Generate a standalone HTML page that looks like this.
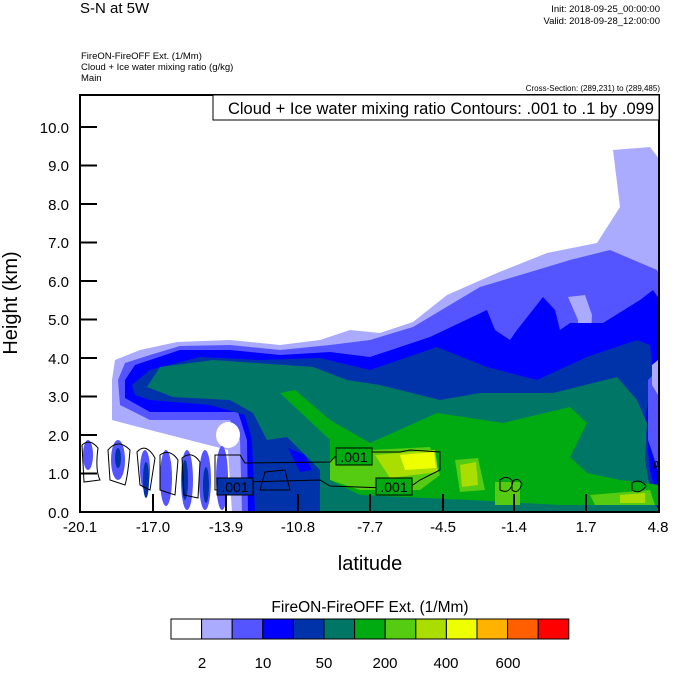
<!DOCTYPE html>
<html><head><meta charset="utf-8"><style>
body{margin:0;background:#fff;width:674px;height:668px;overflow:hidden;font-family:"Liberation Sans",sans-serif}
</style></head><body>
<svg width="674" height="668" viewBox="0 0 674 668" xmlns="http://www.w3.org/2000/svg" font-family="Liberation Sans, sans-serif">
<text x="80" y="13" font-size="15">S-N at 5W</text>
<text x="660" y="12" font-size="9.5" text-anchor="end">Init: 2018-09-25_00:00:00</text>
<text x="660" y="24" font-size="9.5" text-anchor="end">Valid: 2018-09-28_12:00:00</text>
<text x="81" y="59" font-size="9.5">FireON-FireOFF Ext.   (1/Mm)</text>
<text x="81" y="70" font-size="9.5">Cloud + Ice water mixing ratio   (g/kg)</text>
<text x="81" y="81" font-size="9.5">Main</text>
<text x="660" y="91" font-size="8" text-anchor="end">Cross-Section: (289,231) to (289,485)</text>
<defs><clipPath id="c"><rect x="80" y="95" width="579" height="417"/></clipPath></defs>
<g clip-path="url(#c)">
<path fill="#aaaaff" d="M112,380 L115,360 L140,350 L177,342 L230,340 L280,345 L320,340 L350,330 L380,333 L413,322 L447,295 L497,273 L547,253 L597,243 L620,207 L613,150 L650,147 L660,160 L660,512 L232,512 L228,450 L150,430 L112,420 Z"/>
<path fill="#5555ff" d="M118,380 L125,363 L150,355 L180,346 L230,345 L280,350 L330,345 L370,340 L413,327 L480,287 L537,270 L570,260 L610,250 L657,270 L660,275 L660,512 L242,512 L240,440 L230,420 L150,420 L120,405 Z"/>
<path fill="#aaaaff" d="M568,297 L585,295 L592,315 L590,350 L580,353 L578,320 Z"/>
<path fill="#0000ff" d="M125,380 L135,365 L180,350 L230,350 L280,355 L330,352 L370,357 L430,337 L487,310 L495,330 L510,340 L517,330 L543,297 L555,310 L560,330 L570,323 L603,323 L640,300 L653,290 L660,300 L660,512 L248,512 L247,440 L238,412 L150,412 L125,398 Z"/>
<path fill="#0033aa" d="M132,385 L150,370 L200,357 L260,360 L320,358 L370,370 L437,347 L487,367 L537,380 L587,357 L637,340 L650,345 L653,373 L645,420 L650,470 L660,512 L255,512 L252,440 L245,415 L210,405 L150,400 L135,395 Z"/>
<path fill="#5555ff" d="M648,380 L658,370 L658,470 L648,440 Z"/>
<path fill="#aaaaff" d="M652,365 L658,360 L658,395 L652,385 Z"/>
<ellipse cx="228" cy="435" rx="12" ry="13" fill="#fff"/>
<path fill="#007766" d="M147,387 L160,367 L213,360 L313,367 L347,380 L380,385 L440,400 L480,393 L553,393 L617,377 L637,400 L647,423 L645,460 L652,500 L660,512 L320,512 L320,470 L287,437 L267,440 L253,413 L230,400 L173,397 Z"/>
<path fill="#0000ff" d="M288,448 L305,455 L312,470 L300,472 Z"/>
<path fill="#00aa11" d="M280,393 L295,390 L330,420 L370,443 L437,413 L503,423 L570,407 L587,423 L570,457 L587,473 L620,480 L660,485 L660,505 L560,505 L470,500 L360,495 L330,480 L330,440 Z"/>
<path fill="#55cc11" d="M330,460 L370,450 L430,447 L440,475 L420,490 L360,490 L330,480 Z M455,460 L478,458 L485,490 L460,492 Z M590,495 L650,490 L655,505 L595,505 Z M495,482 L520,482 L520,505 L495,505 Z"/>
<path fill="#aadd00" d="M375,455 L435,450 L438,472 L390,478 Z M460,465 L476,462 L478,485 L462,487 Z M620,495 L645,493 L645,503 L620,503 Z"/>
<path fill="#eeff00" d="M400,455 L434,452 L436,468 L405,470 Z"/>
<g fill="#5555ff">
<ellipse cx="88" cy="455" rx="5" ry="15"/><ellipse cx="118" cy="460" rx="7" ry="20"/>
<ellipse cx="145" cy="470" rx="5" ry="20"/><ellipse cx="166" cy="478" rx="6" ry="28"/>
<ellipse cx="187" cy="480" rx="6" ry="30"/><ellipse cx="205" cy="480" rx="6" ry="30"/>
<ellipse cx="222" cy="478" rx="6" ry="32"/>
</g>
<g fill="#0033aa">
<ellipse cx="118" cy="458" rx="3" ry="10"/><ellipse cx="146" cy="480" rx="3" ry="18"/>
<ellipse cx="185" cy="480" rx="3" ry="20"/><ellipse cx="206" cy="485" rx="3" ry="18"/>
</g>
<g fill="none" stroke="#000" stroke-width="1">
<path d="M215,455 L240,455 L245,463 L330,462 L340,452 L400,452 L410,450 L440,452 L440,470 L420,480 L410,487 L385,488 L330,486 L320,480 L245,482 L235,488 L215,490 Z"/>
<path d="M82,445 Q90,438 98,448 Q95,470 100,480 L84,482 Z"/>
<path d="M108,450 Q118,438 130,450 Q128,475 125,485 L110,480 Z"/>
<path d="M137,452 Q146,442 155,458 L150,490 L140,485 Z"/>
<path d="M160,455 Q170,448 178,460 L175,495 L160,490 Z"/>
<path d="M182,458 Q192,450 200,462 L198,498 L184,495 Z"/>
<path d="M260,490 L265,472 L285,470 L290,490 Z"/>
<path d="M500,480 Q508,474 513,482 Q510,495 500,490 Z"/>
<path d="M512,482 Q518,476 522,484 Q518,495 512,490 Z"/>
<path d="M632,483 Q640,478 646,486 Q640,495 632,490 Z"/>
<path d="M655,462 Q658,460 658,466 L654,468 Z"/>
</g>
<rect x="336" y="448" width="36" height="17" fill="#00aa11" stroke="#000"/>
<text x="354" y="462" font-size="14" text-anchor="middle">.001</text>
<rect x="217" y="478" width="36" height="17" fill="#0033aa" stroke="#000"/>
<text x="235" y="492" font-size="14" text-anchor="middle">.001</text>
<rect x="376" y="478" width="36" height="17" fill="#00aa11" stroke="#000"/>
<text x="394" y="492" font-size="14" text-anchor="middle">.001</text>
</g>
<rect x="80" y="95" width="579" height="417" fill="none" stroke="#000" stroke-width="2"/>
<rect x="213" y="95" width="446" height="25" fill="#fff" stroke="#000" stroke-width="1"/>
<text x="654" y="114" font-size="16.5" text-anchor="end">Cloud + Ice water mixing ratio Contours: .001 to .1 by .099</text>
<g stroke="#000" stroke-width="2">
<line x1="153" y1="512" x2="153" y2="494"/><line x1="226" y1="512" x2="226" y2="494"/>
<line x1="298" y1="512" x2="298" y2="494"/><line x1="370" y1="512" x2="370" y2="494"/>
<line x1="443" y1="512" x2="443" y2="494"/><line x1="514" y1="512" x2="514" y2="494"/>
<line x1="586" y1="512" x2="586" y2="494"/>
<line x1="80" y1="473.5" x2="97" y2="473.5"/><line x1="80" y1="435" x2="97" y2="435"/>
<line x1="80" y1="396.5" x2="97" y2="396.5"/><line x1="80" y1="358" x2="97" y2="358"/>
<line x1="80" y1="319.5" x2="97" y2="319.5"/><line x1="80" y1="281" x2="97" y2="281"/>
<line x1="80" y1="242.5" x2="97" y2="242.5"/><line x1="80" y1="204" x2="97" y2="204"/>
<line x1="80" y1="165.5" x2="97" y2="165.5"/><line x1="80" y1="127" x2="97" y2="127"/>
</g>
<g font-size="15" text-anchor="end">
<text x="69" y="518">0.0</text><text x="69" y="479">1.0</text><text x="69" y="441">2.0</text>
<text x="69" y="402">3.0</text><text x="69" y="364">4.0</text><text x="69" y="325">5.0</text>
<text x="69" y="287">6.0</text><text x="69" y="248">7.0</text><text x="69" y="210">8.0</text>
<text x="69" y="171">9.0</text><text x="69" y="133">10.0</text>
</g>
<g font-size="15" text-anchor="middle">
<text x="80" y="532">-20.1</text><text x="153" y="532">-17.0</text><text x="226" y="532">-13.9</text>
<text x="298" y="532">-10.8</text><text x="370" y="532">-7.7</text><text x="443" y="532">-4.5</text>
<text x="514" y="532">-1.4</text><text x="586" y="532">1.7</text><text x="658" y="532">4.8</text>
</g>
<text x="370" y="570" font-size="20" text-anchor="middle">latitude</text>
<text transform="translate(17,303) rotate(-90)" font-size="20" text-anchor="middle">Height (km)</text>
<text x="370" y="612" font-size="15.5" text-anchor="middle">FireON-FireOFF Ext.  (1/Mm)</text>
<g stroke="#000" stroke-width="1">
<rect x="171" y="619" width="30.6" height="20" fill="#ffffff"/>
<rect x="201.6" y="619" width="30.6" height="20" fill="#aaaaff"/>
<rect x="232.2" y="619" width="30.6" height="20" fill="#5555ff"/>
<rect x="262.8" y="619" width="30.6" height="20" fill="#0000ff"/>
<rect x="293.4" y="619" width="30.6" height="20" fill="#0033aa"/>
<rect x="324" y="619" width="30.6" height="20" fill="#007766"/>
<rect x="354.6" y="619" width="30.6" height="20" fill="#00aa11"/>
<rect x="385.2" y="619" width="30.6" height="20" fill="#55cc11"/>
<rect x="415.8" y="619" width="30.6" height="20" fill="#aadd00"/>
<rect x="446.4" y="619" width="30.6" height="20" fill="#eeff00"/>
<rect x="477" y="619" width="30.6" height="20" fill="#ffb300"/>
<rect x="507.6" y="619" width="30.6" height="20" fill="#ff5f00"/>
<rect x="538.2" y="619" width="30.6" height="20" fill="#ff0000"/>
</g>
<g font-size="15" text-anchor="middle">
<text x="202" y="668">2</text><text x="263" y="668">10</text><text x="324" y="668">50</text>
<text x="385" y="668">200</text><text x="446" y="668">400</text><text x="508" y="668">600</text>
</g>
</svg>
</body></html>
